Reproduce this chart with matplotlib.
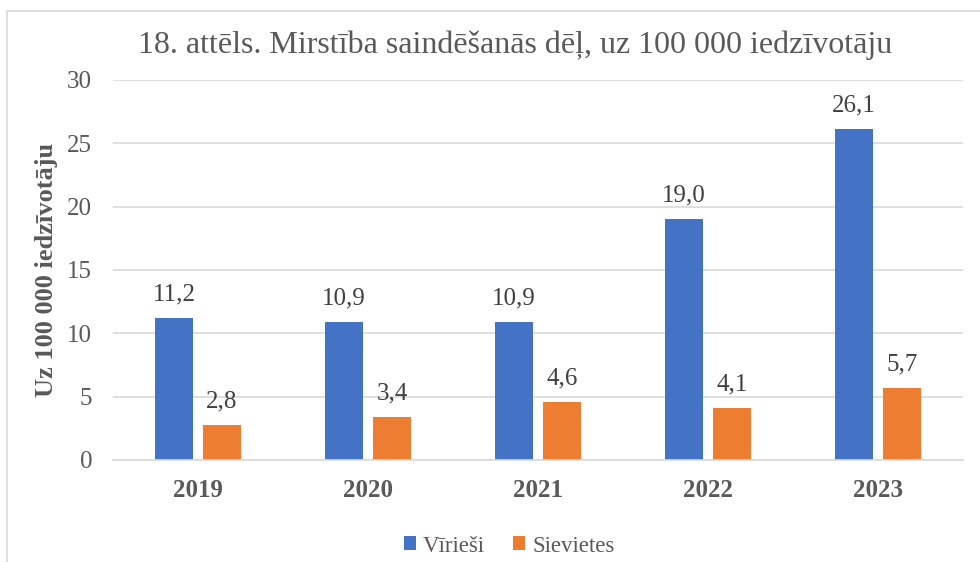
import matplotlib
matplotlib.use("Agg")
import matplotlib.pyplot as plt
from matplotlib.patches import Rectangle
import numpy as np

years = ["2019", "2020", "2021", "2022", "2023"]
viriesi = [11.2, 10.9, 10.9, 19.0, 26.1]
sievietes = [2.8, 3.4, 4.6, 4.1, 5.7]
series_names = ["Vīrieši", "Sievietes"]
title = "18. attēls. Mirstība saindēšanās dēļ, uz 100 000 iedzīvotāju"
ylabel = "Uz 100 000 iedzīvotāju"
yticks = [0, 5, 10, 15, 20, 25, 30]

BLUE = "#4472C4"
ORANGE = "#ED7D31"
GRAY = "#595959"
GRID = "#D9D9D9"

plt.rcParams['font.family'] = ['Liberation Serif', 'DejaVu Serif']

W, H = 980, 562
fig = plt.figure(figsize=(W/100, H/100), dpi=100)

# frame
fig.patches.append(Rectangle((7/W, -0.1), 1.2, (H - 11)/H + 0.1, transform=fig.transFigure,
                             fill=False, edgecolor=GRID, linewidth=1.2))

ax = fig.add_axes([113/W, 1 - 460/H, (963 - 113)/W, (460 - 80)/H])
x = np.arange(len(years))
off = 24/170
bw = 38/170
b1 = ax.bar(x - off, viriesi, bw, color=BLUE, label=series_names[0], zorder=3)
b2 = ax.bar(x + off, sievietes, bw, color=ORANGE, label=series_names[1], zorder=3)

ax.set_xlim(-0.5, len(years) - 0.5)
ax.set_ylim(0, 30)
ax.set_yticks(yticks)
ax.set_yticklabels([str(t) for t in yticks], fontsize=18, color=GRAY)
ax.set_xticks(x)
ax.set_xticklabels(years, fontsize=18, fontweight='bold', color=GRAY)
ax.tick_params(axis='both', length=0)
ax.tick_params(axis='y', pad=15)
ax.tick_params(axis='x', pad=14)
ax.yaxis.grid(True, color=GRID, linewidth=1.2, zorder=0)
for s in ['top', 'right', 'left']:
    ax.spines[s].set_visible(False)
ax.spines['bottom'].set_color(GRID)
ax.spines['bottom'].set_linewidth(1.2)
ax.spines['bottom'].set_zorder(4)

for bars in (b1, b2):
    for r in bars:
        v = r.get_height()
        ax.annotate(f"{v:.1f}".replace(".", ","), (r.get_x() + r.get_width()/2, v),
                    xytext=(0, 9), textcoords='offset points', ha='center', va='bottom',
                    fontsize=18, color='#404040')

fig.text(47/W, 1 - 270/H, ylabel, rotation=90, ha='center', va='center',
         fontsize=19, fontweight='bold', color=GRAY)
fig.text(515/W, 1 - 45/H, title, ha='center', va='center', fontsize=23, color=GRAY)

leg = fig.legend(handles=[b1, b2], labels=series_names, loc='center',
                 bbox_to_anchor=(509/W, 1 - 546/H), ncol=2, frameon=False,
                 fontsize=16.5, handlelength=0.55, handleheight=0.55, handletextpad=0.3,
                 columnspacing=1.2)
for t in leg.get_texts():
    t.set_color(GRAY)

fig.savefig("out.png", dpi=100)
